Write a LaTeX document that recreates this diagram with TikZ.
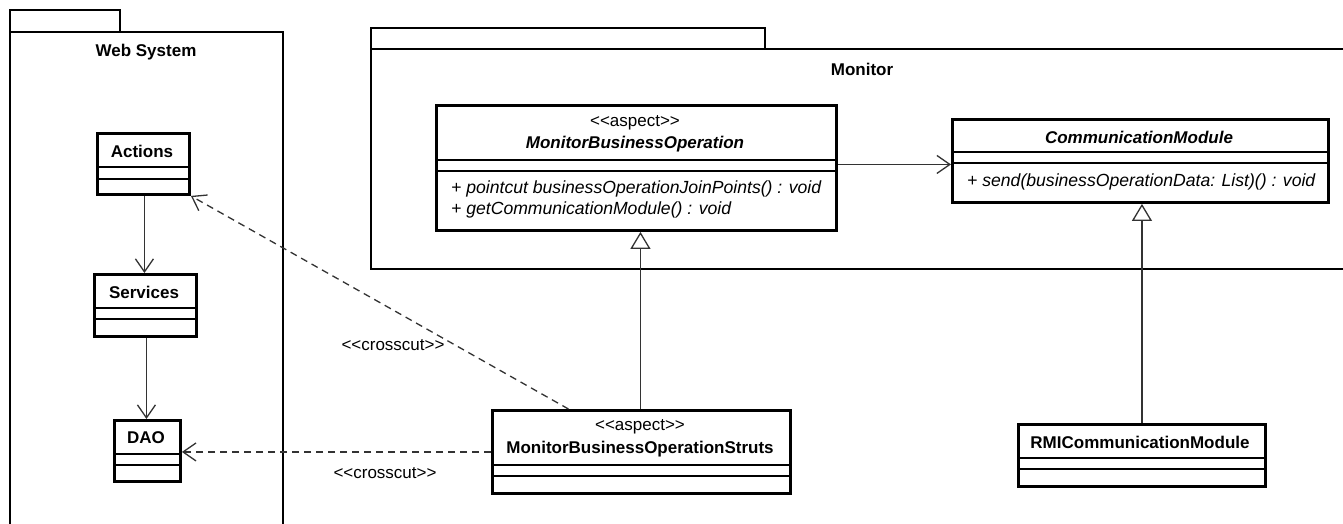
\documentclass[tikz,border=0pt]{standalone}
\usepackage{fontspec}
\setmainfont{Liberation Sans}
\usetikzlibrary{arrows.meta}
\begin{document}
\begin{tikzpicture}[x=1pt,y=-1pt,
  pkg/.style={draw=black,line width=2.9pt},
  cls/.style={draw=black,line width=2.9pt,fill=white,inner sep=0pt,anchor=north west},
  comp/.style={draw=black,line width=1.4pt},
  lbl/.style={inner sep=0pt,font=\fontsize{17}{20}\selectfont},
  bname/.style={lbl,font=\fontsize{17}{20}\selectfont\bfseries},
  iname/.style={lbl,font=\fontsize{17}{20}\selectfont\bfseries\itshape},
  op/.style={lbl,anchor=west,font=\fontsize{17.6}{20}\selectfont\itshape},
  assoc/.style={draw=black!80,line width=1.3pt,-{Straight Barb[length=13pt,width=18pt,line width=1.3pt]}},
  dep/.style={assoc,dash pattern=on 7pt off 5pt},
  gen/.style={draw=black!80,line width=1.3pt,-{Triangle[open,length=17pt,width=20pt,line width=1.3pt,fill=white]}}
]
\useasboundingbox (0,0) rectangle (1343,524);
\fill[white] (0,0) rectangle (1343,524);

% packages
\draw[pkg] (10,10) rectangle (120,32);
\draw[pkg] (10,32) rectangle (283,540);
\node[bname] (wstitle) at (146,52) {Web System};
\draw[pkg] (371,28) rectangle (765,49);
\draw[pkg] (371,49) rectangle (1360,269);
\node[bname] (montitle) at (862,69) {Monitor};

% Actions
\node[cls,minimum width=92pt,minimum height=61pt] (actions) at (96,132) {};
\node[bname] (actionsname) at (142,151) {Actions};
\draw[comp] ([yshift=-35pt]actions.north west) -- ([yshift=-35pt]actions.north east);
\draw[comp] ([yshift=-47pt]actions.north west) -- ([yshift=-47pt]actions.north east);

% Services
\node[cls,minimum width=102pt,minimum height=62pt] (services) at (93,273) {};
\node[bname] (servicesname) at (144,292) {Services};
\draw[comp] ([yshift=-35pt]services.north west) -- ([yshift=-35pt]services.north east);
\draw[comp] ([yshift=-46pt]services.north west) -- ([yshift=-46pt]services.north east);

% DAO
\node[cls,minimum width=66pt,minimum height=61pt] (dao) at (113,419) {};
\node[bname] (daoname) at (146,438) {DAO};
\draw[comp] ([yshift=-35pt]dao.north west) -- ([yshift=-35pt]dao.north east);
\draw[comp] ([yshift=-46pt]dao.north west) -- ([yshift=-46pt]dao.north east);

% MonitorBusinessOperation
\node[cls,minimum width=400pt,minimum height=125pt] (mbo) at (435,104) {};
\node[lbl] (mbost) at (635,123) {<{}<aspect>{}>};
\node[iname] (mboname) at (635,144) {MonitorBusinessOperation};
\draw[comp] ([yshift=-56pt]mbo.north west) -- ([yshift=-56pt]mbo.north east);
\draw[comp] ([yshift=-67pt]mbo.north west) -- ([yshift=-67pt]mbo.north east);
\node[op] (mboop1) at (451,189) {+ pointcut businessOperationJoinPoints() : void};
\node[op] (mboop2) at (451,210) {+ getCommunicationModule() : void};

% CommunicationModule
\node[cls,minimum width=376pt,minimum height=83pt] (cm) at (951,118) {};
\node[iname] (cmname) at (1139,137) {CommunicationModule};
\draw[comp] ([yshift=-34pt]cm.north west) -- ([yshift=-34pt]cm.north east);
\draw[comp] ([yshift=-45pt]cm.north west) -- ([yshift=-45pt]cm.north east);
\node[op] (cmop) at (967,182) {+ send(businessOperationData: List)() : void};

% MonitorBusinessOperationStruts
\node[cls,minimum width=298pt,minimum height=83pt] (struts) at (491,409) {};
\node[lbl] (strutsst) at (640,427) {<{}<aspect>{}>};
\node[bname] (strutsname) at (640,449) {MonitorBusinessOperationStruts};
\draw[comp] ([yshift=-56pt]struts.north west) -- ([yshift=-56pt]struts.north east);
\draw[comp] ([yshift=-67pt]struts.north west) -- ([yshift=-67pt]struts.north east);

% RMICommunicationModule
\node[cls,minimum width=247pt,minimum height=62pt] (rmi) at (1017,423) {};
\node[bname] (rminame) at (1140,442) {RMICommunicationModule};
\draw[comp] ([yshift=-35pt]rmi.north west) -- ([yshift=-35pt]rmi.north east);
\draw[comp] ([yshift=-46pt]rmi.north west) -- ([yshift=-46pt]rmi.north east);

% connectors
\draw[assoc] ([xshift=1pt]actions.south) -- ([xshift=1pt]actions.south |- services.north);
\draw[assoc] ([xshift=1pt]services.south) -- ([xshift=1pt]services.south |- dao.north);
\draw[assoc] ([yshift=3.5pt]mbo.east) -- ([yshift=-3.5pt]cm.west);
\draw[gen] ([xshift=-1pt]struts.north) -- ([xshift=-1pt]struts.north |- mbo.south);
\draw[gen] (rmi.north) -- (rmi.north |- cm.south);
\draw[dep] ([xshift=-73pt]struts.north) -- (actions.south east);
\draw[dep] (struts.west) -- (struts.west -| dao.east);

\node[lbl] (cc1) at (393,345) {<{}<crosscut>{}>};
\node[lbl] (cc2) at (385,473) {<{}<crosscut>{}>};
\end{tikzpicture}
\end{document}
